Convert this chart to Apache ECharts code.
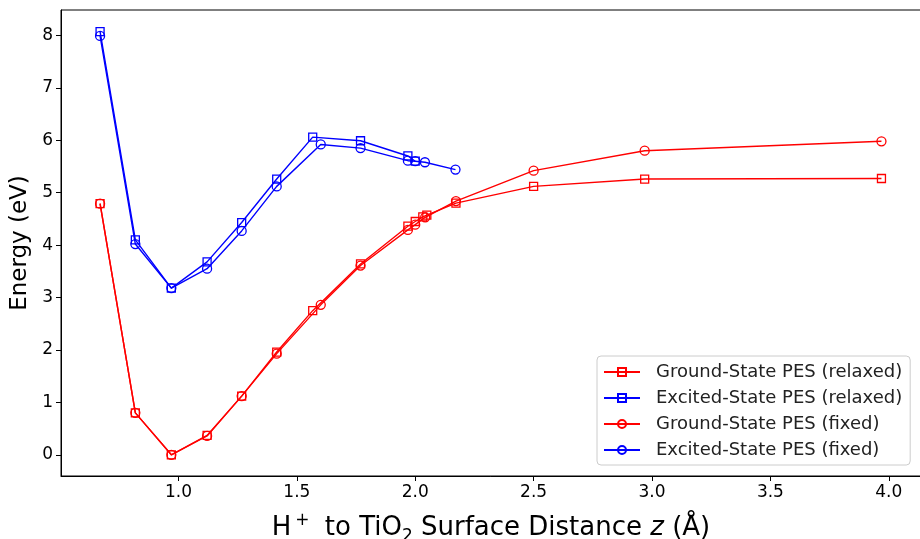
<!DOCTYPE html>
<html><head><meta charset="utf-8">
<script src="https://cdn.jsdelivr.net/npm/echarts@6/dist/echarts.min.js"></script>
<style>html,body{margin:0;padding:0;background:#fff}#c{width:920px;height:539px}</style>
</head><body><div id="c"></div>
<script>
const zRelaxedGS = [0.669,0.818,0.970,1.121,1.267,1.415,1.567,1.769,1.969,2.000,2.032,2.049,2.172,2.500,2.969,3.969];
const eRelaxedGS = [4.79,0.80,0.00,0.37,1.12,1.96,2.75,3.64,4.36,4.45,4.54,4.57,4.80,5.12,5.26,5.27];
const zRelaxedES = [0.669,0.818,0.970,1.121,1.267,1.415,1.567,1.769,1.969,2.000];
const eRelaxedES = [8.07,4.10,3.18,3.68,4.43,5.26,6.06,5.99,5.70,5.60];
const zFixedGS = [0.669,0.818,0.970,1.121,1.267,1.415,1.601,1.769,1.969,2.000,2.042,2.172,2.500,2.969,3.969];
const eFixedGS = [4.79,0.80,0.00,0.36,1.12,1.93,2.86,3.61,4.29,4.39,4.53,4.84,5.42,5.80,5.98];
const zFixedES = [0.669,0.818,0.970,1.121,1.267,1.415,1.601,1.769,1.969,2.000,2.041,2.170];
const eFixedES = [7.99,4.02,3.18,3.55,4.27,5.12,5.92,5.85,5.61,5.60,5.58,5.44];
const xTicks = [1.0,1.5,2.0,2.5,3.0,3.5,4.0];
const yTicks = [0,1,2,3,4,5,6,7,8];
const names = ['Ground-State PES (relaxed)','Excited-State PES (relaxed)','Ground-State PES (fixed)','Excited-State PES (fixed)'];

const pair = (xs, ys) => xs.map((x,i)=>[x, ys[i]]);
const FONT = 'DejaVu Sans';
function mk(name, data, color, symbol){
  return {name, type:'line', data, symbol, symbolSize: symbol==='rect'?8:9, showSymbol:true,
    lineStyle:{color, width:1.4}, itemStyle:{color:'transparent', borderColor:color, borderWidth:1.3},
    emphasis:{disabled:true}, animation:false, z:2};
}
const chart = echarts.init(document.getElementById('c'), null, {renderer:'canvas'});
chart.setOption({
  backgroundColor:'#fff',
  animation:false,
  grid:{left:61, right:-1, top:10, bottom:63, outerBoundsMode:'none', containLabel:false,
    show:true, borderColor:'#000', borderWidth:1, backgroundColor:'transparent'},
  xAxis:{type:'value', min:0.504, max:4.136,
    name:'{n|H}{sup|+}{n| to TiO}{sub|2}{n| Surface Distance }{it|z}{n| (Å)}',
    nameLocation:'middle', nameGap:36,
    nameTextStyle:{rich:{
      n:{fontFamily:FONT, fontSize:26, color:'#000'},
      it:{fontFamily:FONT, fontSize:26, fontStyle:'italic', color:'#000'},
      sup:{fontFamily:FONT, fontSize:17, color:'#000', verticalAlign:'top', padding:[0,7,14,4]},
      sub:{fontFamily:FONT, fontSize:17, color:'#000', padding:[16,0,0,0]}
    }},
    axisLine:{onZero:false, lineStyle:{color:'#000', width:1}},
    axisTick:{show:true, length:5, customValues:xTicks, lineStyle:{color:'#000'}},
    axisLabel:{customValues:xTicks, fontFamily:FONT, fontSize:17, color:'#000', margin:8, formatter:v=>v.toFixed(1)},
    splitLine:{show:false}},
  yAxis:{type:'value', min:-0.404, max:8.484,
    name:'Energy (eV)', nameLocation:'middle', nameGap:28,
    nameTextStyle:{fontFamily:FONT, fontSize:23, color:'#000'},
    axisLine:{show:true, onZero:false, lineStyle:{color:'#000', width:1}},
    axisTick:{show:true, length:5, customValues:yTicks, lineStyle:{color:'#000'}},
    axisLabel:{customValues:yTicks, fontFamily:FONT, fontSize:17, color:'#000', margin:8},
    splitLine:{show:false}},
  legend:{left:597, top:356, orient:'vertical', data:names,
    backgroundColor:'rgba(255,255,255,0.85)', borderColor:'#cccccc', borderWidth:1, borderRadius:4,
    padding:[7,8,6,6], itemWidth:36, itemHeight:10, itemGap:8,
    textStyle:{fontFamily:FONT, fontSize:18, lineHeight:18, color:'#222', padding:[0,0,0,11]}},
  series:[
    mk(names[0], pair(zRelaxedGS,eRelaxedGS), '#ff0000', 'rect'),
    mk(names[1], pair(zRelaxedES,eRelaxedES), '#0000ff', 'rect'),
    mk(names[2], pair(zFixedGS,eFixedGS), '#ff0000', 'circle'),
    mk(names[3], pair(zFixedES,eFixedES), '#0000ff', 'circle')
  ]
});
</script></body></html>
